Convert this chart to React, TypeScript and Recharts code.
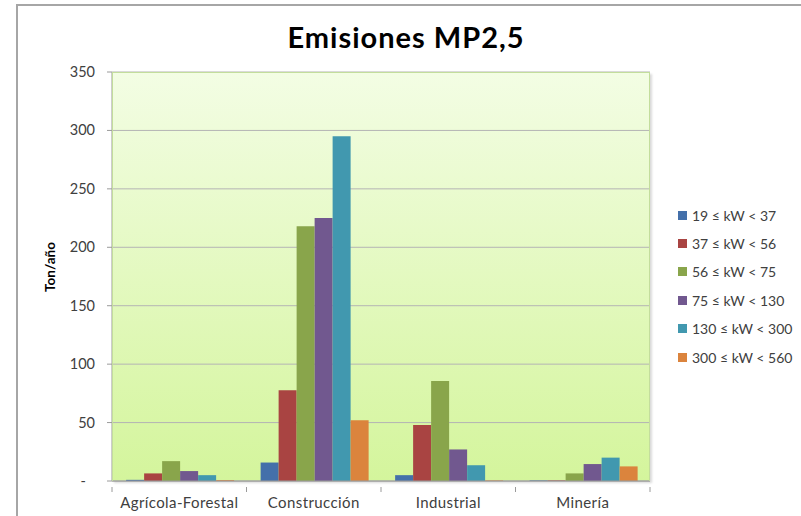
import React from 'react';
import { BarChart, Bar, XAxis, YAxis, CartesianGrid } from 'recharts';

const categories = ['Agrícola-Forestal', 'Construcción', 'Industrial', 'Minería'];
const seriesNames = ['19 ≤ kW < 37', '37 ≤ kW < 56', '56 ≤ kW < 75', '75 ≤ kW < 130', '130 ≤ kW < 300', '300 ≤ kW < 560'];
const s19_37 = [1, 15.8, 5, 0.5];
const s37_56 = [6.5, 77.7, 48, 0.5];
const s56_75 = [17, 218, 85.5, 6.5];
const s75_130 = [8.5, 225, 27, 14.5];
const s130_300 = [5, 295, 13.5, 20];
const s300_560 = [0.8, 52, 0.5, 12.5];
const yTicks = [0, 50, 100, 150, 200, 250, 300, 350];

const seriesValues = [s19_37, s37_56, s56_75, s75_130, s130_300, s300_560];
const colors = ['#4470AA', '#A94442', '#89A54B', '#71588F', '#4198AF', '#DB843D'];
const keys = ['k0', 'k1', 'k2', 'k3', 'k4', 'k5'];

const data = categories.map((c, i) => {
  const row: Record<string, any> = { name: c };
  seriesValues.forEach((s, j) => { row[keys[j]] = s[i]; });
  return row;
});

const FONT = 'Lato, "Open Sans", sans-serif';

const XTick = (props: any) => {
  const { x, y, payload, index } = props;
  const off = payload && typeof payload.offset === 'number' ? payload.offset : 0;
  return (
    <g>
      <line x1={x - off} x2={x - off} y1={y - 2} y2={y + 3} stroke="#9a9a9a" />
      {index === categories.length - 1 && (
        <line x1={x + off} x2={x + off} y1={y - 2} y2={y + 3} stroke="#9a9a9a" />
      )}
      <text x={x} y={y + 19} textAnchor="middle" fill="#404040" fontSize={15} letterSpacing={0.4} fontFamily={FONT}>
        {payload.value}
      </text>
    </g>
  );
};

const YTick = (props: any) => {
  const { x, y, payload } = props;
  const isZero = payload.value === 0;
  return (
    <text x={isZero ? x - 9 : x} y={y + 5} textAnchor="end" fill="#404040" fontSize={14.5} fontFamily={FONT}>
      {isZero ? '-' : payload.value}
    </text>
  );
};

const LegendBox = () => (
  <div style={{ position: 'absolute', left: 678, top: 201, fontFamily: FONT, fontSize: 14, color: '#404040' }}>
    {seriesNames.map((n, i) => (
      <div key={n} style={{ display: 'flex', alignItems: 'center', height: 28.4 }}>
        <span style={{ display: 'inline-block', width: 9, height: 9, background: colors[i], marginRight: 5 }} />
        <span style={{ whiteSpace: 'nowrap' }}>{n}</span>
      </div>
    ))}
  </div>
);

export default function App() {
  return (
    <div style={{ position: 'absolute', left: 0, top: 0, width: 801, height: 516, background: '#fff', overflow: 'hidden' }}>
      <div style={{ position: 'absolute', left: 16, top: 4, width: 801, height: 516, borderLeft: '2px solid #a6a6a6', borderTop: '2px solid #a6a6a6' }} />
      <div style={{ position: 'absolute', left: 0, top: 19, width: 812, textAlign: 'center', fontFamily: FONT, fontWeight: 700, fontSize: 29, letterSpacing: 1, color: '#000' }}>
        Emisiones MP2,5
      </div>
      <div style={{ position: 'absolute', left: 50, top: 267, transform: 'translate(-50%, -50%) rotate(-90deg)', fontFamily: FONT, fontWeight: 700, fontSize: 13.5, color: '#000', whiteSpace: 'nowrap' }}>
        Ton/año
      </div>
      <div style={{ position: 'absolute', left: 0, top: 0 }}>
        <BarChart width={801} height={516} data={data} margin={{ top: 72, right: 151, bottom: 0, left: 0 }} barCategoryGap="10.5%" barGap={0}>
          <defs>
            <linearGradient id="plotBg" x1="0" y1="0" x2="0" y2="1">
              <stop offset="0%" stopColor="#f3fde4" />
              <stop offset="100%" stopColor="#d4f59c" />
            </linearGradient>
          </defs>
          <CartesianGrid vertical={false} stroke="#b4b4b4" fill="url(#plotBg)" fillOpacity={1} />
          <XAxis dataKey="name" height={35} axisLine={{ stroke: '#9a9a9a' }} tickLine={false} tick={<XTick />} interval={0} />
          <YAxis width={112} domain={[0, 350]} ticks={yTicks} interval={0} axisLine={{ stroke: '#9a9a9a' }} tickLine={{ stroke: '#9a9a9a' }} tickSize={5} tick={<YTick />} tickMargin={12} />
          {keys.map((k, i) => (
            <Bar key={k} dataKey={k} name={seriesNames[i]} fill={colors[i]} isAnimationActive={false} />
          ))}
        </BarChart>
      </div>
      <LegendBox />
      <div style={{ position: 'absolute', left: 112, top: 72, width: 538, height: 409, border: '1px solid #c3dd9c', borderBottom: 'none', boxSizing: 'border-box', boxShadow: '2px 2px 2px rgba(150,150,150,0.35)', pointerEvents: 'none' }} />
    </div>
  );
}
